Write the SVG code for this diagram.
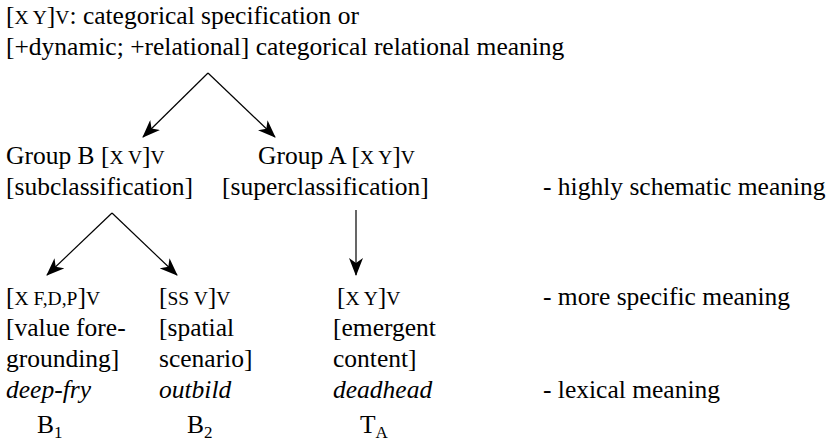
<svg xmlns="http://www.w3.org/2000/svg" width="835" height="448" viewBox="0 0 835 448">
<defs>
<style>
.t text{font-size:25.5px;fill:#000}
.sc{font-size:19.5px}
.it{font-style:italic}
.sub{font-size:17px}
.conn line{stroke:#000;stroke-width:1.2;fill:none}
</style>
<marker id="ah" viewBox="0 0 18 14" markerWidth="18" markerHeight="14" refX="17" refY="7" orient="auto" markerUnits="userSpaceOnUse">
<path d="M0,0 L18,7 L0,14 L5,7 Z" fill="#000"/>
</marker>
</defs>
<rect width="835" height="448" fill="#fff"/>
<g class="t" font-family="Liberation Serif, Tinos, Times New Roman, DejaVu Serif, serif">
<g id="top">
<text x="6" y="24">[<tspan class="sc">X Y</tspan>]<tspan class="sc">V</tspan>: categorical specification or</text>
<text x="6" y="55">[+dynamic; +relational] categorical relational meaning</text>
</g>
<g id="groupB">
<text x="6" y="164">Group B [<tspan class="sc">X V</tspan>]<tspan class="sc">V</tspan></text>
<text x="6" y="195">[subclassification]</text>
</g>
<g id="groupA">
<text x="258" y="164">Group A [<tspan class="sc">X Y</tspan>]<tspan class="sc">V</tspan></text>
<text x="222" y="195">[superclassification]</text>
</g>
<g id="b1">
<text x="6" y="305">[<tspan class="sc">X F,D,P</tspan>]<tspan class="sc">V</tspan></text>
<text x="6" y="336">[value fore-</text>
<text x="6" y="367">grounding]</text>
<text x="6" y="398" class="it">deep-fry</text>
<text x="37" y="433">B<tspan class="sub" dy="5">1</tspan></text>
</g>
<g id="b2">
<text x="159" y="305">[<tspan class="sc">SS V</tspan>]<tspan class="sc">V</tspan></text>
<text x="159" y="336">[spatial</text>
<text x="159" y="367">scenario]</text>
<text x="159" y="398" class="it">outbild</text>
<text x="187" y="433">B<tspan class="sub" dy="5">2</tspan></text>
</g>
<g id="ta">
<text x="337" y="305">[<tspan class="sc">X Y</tspan>]<tspan class="sc">V</tspan></text>
<text x="333" y="336">[emergent</text>
<text x="333" y="367">content]</text>
<text x="333" y="398" class="it">deadhead</text>
<text x="360" y="433">T<tspan class="sub" dy="5">A</tspan></text>
</g>
<g id="levels">
<text x="543" y="195">- highly schematic meaning</text>
<text x="543" y="305">- more specific meaning</text>
<text x="543" y="398">- lexical meaning</text>
</g>
</g>
<g class="conn" id="connectors">
<line x1="208" y1="73" x2="143" y2="137" marker-end="url(#ah)"/>
<line x1="208" y1="73" x2="275" y2="137" marker-end="url(#ah)"/>
<line x1="112" y1="213" x2="47" y2="275" marker-end="url(#ah)"/>
<line x1="112" y1="213" x2="177" y2="275" marker-end="url(#ah)"/>
<line x1="356" y1="210" x2="356" y2="275" marker-end="url(#ah)"/>
</g>
</svg>
